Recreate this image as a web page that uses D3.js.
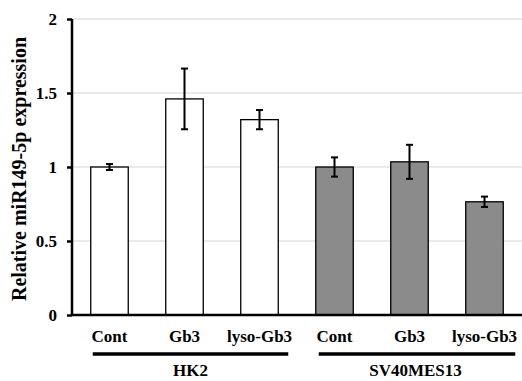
<!DOCTYPE html>
<html>
<head>
<meta charset="utf-8">
<script src="https://cdn.jsdelivr.net/npm/d3@7"></script>
<style>
  body { margin: 0; background: #fff; }
  text { font-family: "Liberation Serif", "Times New Roman", serif; font-weight: bold; fill: #000; }
</style>
</head>
<body>
<div id="chart"></div>
<script>
const categories = ["Cont", "Gb3", "lyso-Gb3", "Cont", "Gb3", "lyso-Gb3"];
const groups = ["HK2", "HK2", "HK2", "SV40MES13", "SV40MES13", "SV40MES13"];
const groupNames = ["HK2", "SV40MES13"];
const values = [1.0, 1.46, 1.32, 1.0, 1.035, 0.765];
const errors = [0.02, 0.205, 0.065, 0.065, 0.115, 0.035];
const yTicks = [0, 0.5, 1, 1.5, 2];

const width = 522, height = 381;
const margin = {top: 19, right: 0, bottom: 66, left: 72};
const innerW = width - margin.left - margin.right;
const innerH = height - margin.top - margin.bottom;

const data = categories.map((c, i) => ({key: i, cat: c, group: groups[i], value: values[i], err: errors[i]}));

const svg = d3.select("#chart").append("svg")
    .attr("width", width)
    .attr("height", height)
    .append("g")
    .attr("transform", "translate(" + margin.left + "," + margin.top + ")");

const x = d3.scaleBand()
    .domain(data.map(d => d.key))
    .range([0, innerW])
    .paddingInner(0.5)
    .paddingOuter(0.25);

const y = d3.scaleLinear()
    .domain([0, 2])
    .range([innerH, 0]);

// gridlines
svg.append("g")
    .selectAll("line")
    .data(yTicks.filter(t => t > 0))
    .enter().append("line")
    .attr("x1", 0).attr("x2", innerW)
    .attr("y1", d => y(d)).attr("y2", d => y(d))
    .attr("stroke", "#e3e3e3")
    .attr("stroke-width", 1.5);

// bars
svg.selectAll("rect.bar")
    .data(data)
    .enter().append("rect")
    .attr("class", "bar")
    .attr("x", d => x(d.key))
    .attr("y", d => y(d.value))
    .attr("width", x.bandwidth())
    .attr("height", d => y(0) - y(d.value))
    .attr("fill", d => d.group === "HK2" ? "#ffffff" : "#8b8b8b")
    .attr("stroke", "#000")
    .attr("stroke-width", 1.3);

// error bars
const eb = svg.append("g").selectAll("g").data(data).enter().append("g")
    .attr("stroke", "#000").attr("stroke-width", 2);
const cx = d => x(d.key) + x.bandwidth() / 2;
eb.append("line")
    .attr("x1", cx).attr("x2", cx)
    .attr("y1", d => y(d.value + d.err)).attr("y2", d => y(d.value - d.err));
eb.append("line")
    .attr("x1", d => cx(d) - 3.5).attr("x2", d => cx(d) + 3.5)
    .attr("y1", d => y(d.value + d.err)).attr("y2", d => y(d.value + d.err));
eb.append("line")
    .attr("x1", d => cx(d) - 3.5).attr("x2", d => cx(d) + 3.5)
    .attr("y1", d => y(d.value - d.err)).attr("y2", d => y(d.value - d.err));

// Y axis
const yAxis = svg.append("g")
    .call(d3.axisLeft(y).tickValues(yTicks).tickFormat(d3.format("")).tickSize(5).tickPadding(10));
yAxis.select(".domain").attr("stroke-width", 2.5).attr("d", "M0," + innerH + "V0");
yAxis.selectAll(".tick line").attr("stroke-width", 2.5);
yAxis.selectAll("text").style("font-size", "17px").attr("fill", "#000")
    .style("font-family", "'Liberation Serif', serif");

// baseline
svg.append("line")
    .attr("x1", 0).attr("x2", innerW)
    .attr("y1", y(0)).attr("y2", y(0))
    .attr("stroke", "#000").attr("stroke-width", 2.5);

// category labels
svg.append("g").selectAll("text")
    .data(data)
    .enter().append("text")
    .attr("x", cx)
    .attr("y", innerH + 27)
    .attr("text-anchor", "middle")
    .style("font-size", "17px")
    .text(d => d.cat);

// group bars and labels
const groupSpans = groupNames.map(g => {
    const ks = data.filter(d => d.group === g).map(d => d.key);
    return {name: g, x0: x(ks[0]), x1: x(ks[ks.length - 1]) + x.bandwidth()};
});
svg.append("g").selectAll("line")
    .data(groupSpans)
    .enter().append("line")
    .attr("x1", d => d.x0 + (d.name === "HK2" ? 2 : 3))
    .attr("x2", d => d.x1 + (d.name === "HK2" ? 10 : 12))
    .attr("y1", innerH + 39).attr("y2", innerH + 39)
    .attr("stroke", "#000").attr("stroke-width", 3.5);
svg.append("g").selectAll("text")
    .data(groupSpans)
    .enter().append("text")
    .attr("x", d => (d.x0 + d.x1) / 2 + 6)
    .attr("y", innerH + 61)
    .attr("text-anchor", "middle")
    .style("font-size", "17px")
    .text(d => d.name);

// Y axis title
svg.append("text")
    .attr("transform", "translate(" + (-46) + "," + (innerH / 2 + 2) + ") rotate(-90)")
    .attr("text-anchor", "middle")
    .style("font-size", "20px")
    .text("Relative miR149-5p expression");
</script>
</body>
</html>
